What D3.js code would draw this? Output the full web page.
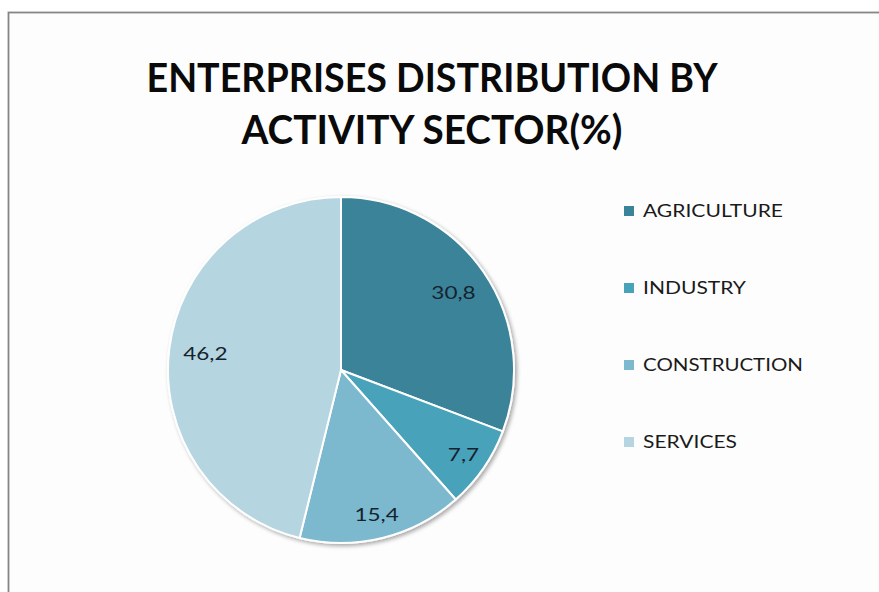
<!DOCTYPE html>
<html>
<head>
<meta charset="utf-8">
<script src="https://cdn.jsdelivr.net/npm/d3@7"></script>
<style>
  html, body { margin: 0; padding: 0; background: #ffffff; }
  svg { display: block; }
  text { font-family: Lato, "Open Sans", sans-serif; }
</style>
</head>
<body>
<svg id="chart" width="879" height="592"></svg>
<script>
// Enterprise share by activity sector, in percent
const sectors = ["AGRICULTURE", "INDUSTRY", "CONSTRUCTION", "SERVICES"];
const shares = [30.8, 7.7, 15.4, 46.2];
const shareLabels = ["30,8", "7,7", "15,4", "46,2"];
const sectorColors = ["#3a8399", "#47a2ba", "#7db9ce", "#b5d5e1"];
const titleLines = ["ENTERPRISES DISTRIBUTION BY", "ACTIVITY SECTOR(%)"];

const svg = d3.select("#chart");
const W = 879, H = 592;

// chart area frame
svg.append("rect")
  .attr("x", 8.5).attr("y", 12.5)
  .attr("width", W + 10).attr("height", H + 10)
  .attr("fill", "#fdfdfd")
  .attr("stroke", "#858585").attr("stroke-width", 1.8);

// title
const titleWidths = [571, 381];
svg.append("g").selectAll("text")
  .data(titleLines)
  .join("text")
  .attr("x", 432)
  .attr("y", (d, i) => 92 + i * 52)
  .attr("text-anchor", "middle")
  .attr("font-size", 41)
  .attr("font-weight", 700)
  .attr("fill", "#0a0a0a")
  .attr("textLength", (d, i) => titleWidths[i])
  .attr("lengthAdjust", "spacingAndGlyphs")
  .text(d => d);

// soft shadow under the pie
const defs = svg.append("defs");
const f = defs.append("filter").attr("id", "shadow")
  .attr("x", "-10%").attr("y", "-10%").attr("width", "120%").attr("height", "120%");
f.append("feGaussianBlur").attr("in", "SourceAlpha").attr("stdDeviation", 2).attr("result", "b");
f.append("feOffset").attr("in", "b").attr("dx", 1.5).attr("dy", 2).attr("result", "o");
f.append("feComponentTransfer").attr("in", "o").attr("result", "s")
  .append("feFuncA").attr("type", "linear").attr("slope", 0.35);
const m = f.append("feMerge");
m.append("feMergeNode").attr("in", "s");
m.append("feMergeNode").attr("in", "SourceGraphic");

const cx = 341, cy = 370, R = 173;
const color = d3.scaleOrdinal().domain(sectors).range(sectorColors);

const pie = d3.pie().sort(null).value(d => d.value);
const data = sectors.map((s, i) => ({ name: s, value: shares[i], label: shareLabels[i] }));
const arcs = pie(data);
const arc = d3.arc().innerRadius(0).outerRadius(R);

const g = svg.append("g").attr("transform", `translate(${cx},${cy})`);
g.append("g").attr("filter", "url(#shadow)")
  .selectAll("path")
  .data(arcs)
  .join("path")
  .attr("d", arc)
  .attr("fill", d => color(d.data.name))
  .attr("stroke", "#ffffff")
  .attr("stroke-width", 2)
  .attr("stroke-linejoin", "round");

// value labels: larger slices sit slightly closer to the centre
g.append("g").selectAll("text")
  .data(arcs)
  .join("text")
  .attr("transform", d => {
    const k = d.data.value > 25 ? 0.79 : 0.86;
    const a = d3.arc().innerRadius(R * k).outerRadius(R * k);
    const [x, y] = a.centroid(d);
    return `translate(${x},${y}) scale(1.25,1)`;
  })
  .attr("text-anchor", "middle")
  .attr("dy", "0.36em")
  .attr("font-size", 18)
  .attr("fill", "#14232f")
  .text(d => d.data.label);

// legend
const legend = svg.append("g").attr("transform", "translate(624,206)");
const legendWidths = [140, 103, 160, 94];
const item = legend.selectAll("g")
  .data(sectors)
  .join("g")
  .attr("transform", (d, i) => `translate(0,${i * 77})`);
item.append("rect")
  .attr("width", 10).attr("height", 10)
  .attr("fill", d => color(d));
item.append("text")
  .attr("x", 19).attr("y", 11)
  .attr("font-size", 17)
  .attr("fill", "#1a1a1a")
  .attr("textLength", (d, i) => legendWidths[i])
  .attr("lengthAdjust", "spacingAndGlyphs")
  .text(d => d);
</script>
</body>
</html>
